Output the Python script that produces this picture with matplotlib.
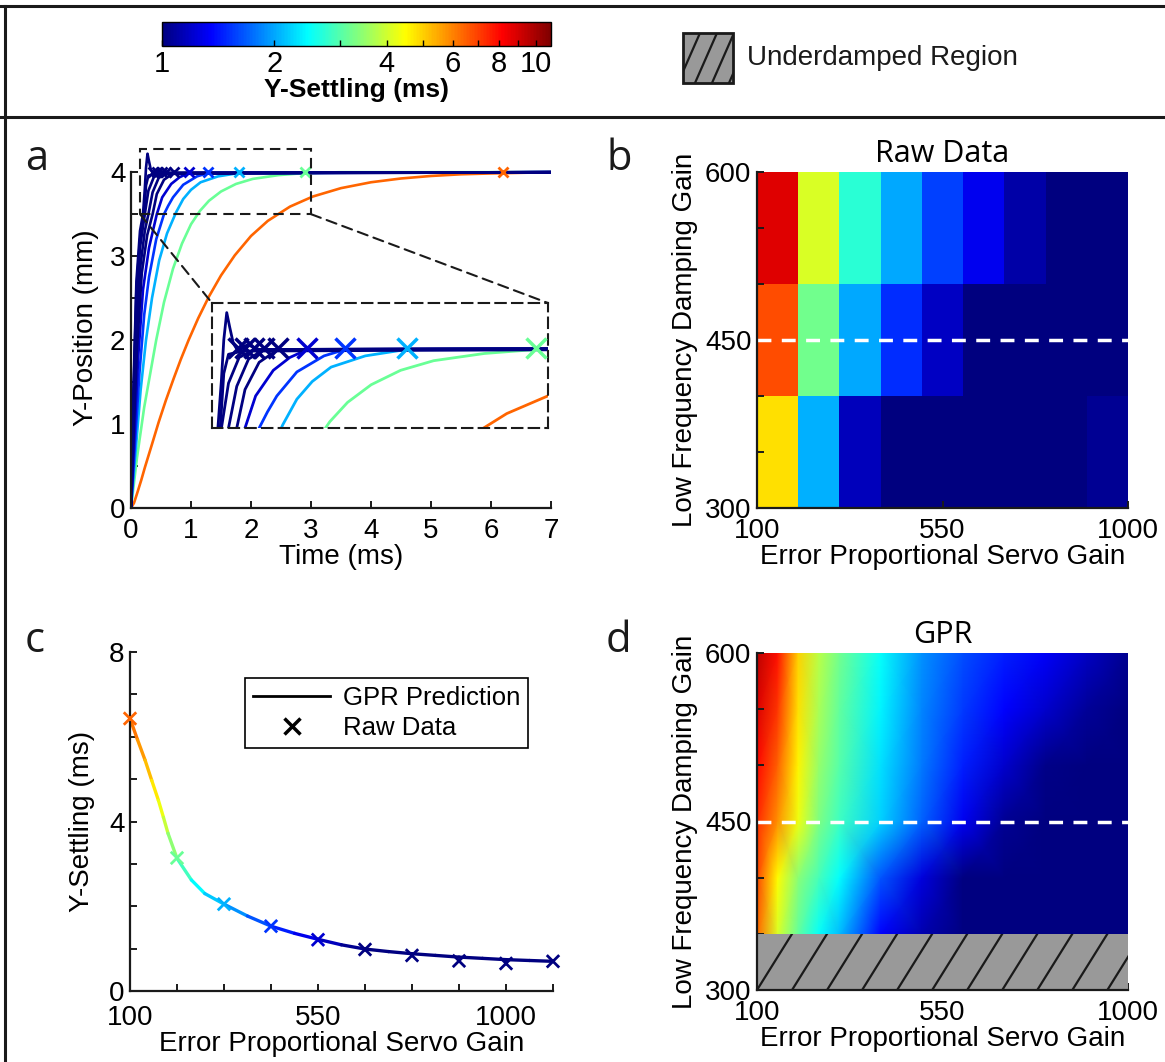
import numpy as np
import matplotlib
matplotlib.use("Agg")
import matplotlib.pyplot as plt
from matplotlib.colors import LogNorm, LinearSegmentedColormap
from matplotlib.collections import LineCollection
from matplotlib.lines import Line2D
from matplotlib.patches import Rectangle, ConnectionPatch
from matplotlib.cm import ScalarMappable

W, H = 1165, 1062
plt.rcParams['font.family'] = ['Liberation Sans', 'DejaVu Sans']
plt.rcParams['font.size'] = 20

# MATLAB-style jet
CMAP = LinearSegmentedColormap.from_list('matlab_jet', [
    (0.0, (0, 0, 0.5)), (0.125, (0, 0, 1)), (0.375, (0, 1, 1)),
    (0.625, (1, 1, 0)), (0.875, (1, 0, 0)), (1.0, (0.5, 0, 0))])
NORM = LogNorm(vmin=1, vmax=11)
INK = '#1a1a1a'
TICK_FS = 20
LABEL_FS = 20

# ---- colorbar ----
cbar_ticks = [1, 2, 4, 6, 8, 10]
cbar_ticklabels = ['1', '2', '4', '6', '8', '10']

# ---- panel a: step responses (time ms, position mm) ----
a_curve_t = [
    [0, 0.05, 0.1, 0.17, 0.23, 0.35, 0.46, 0.58, 0.71, 0.83, 0.96, 1.12, 1.3, 1.5, 1.73,
     2.0, 2.28, 2.65, 3.03, 3.5, 4.0, 4.5, 5.0, 5.5, 6.0, 7.0],
    [0, 0.05, 0.1, 0.16, 0.22, 0.32, 0.42, 0.55, 0.7, 0.85, 1.0, 1.15, 1.3, 1.5, 1.75,
     2.03, 2.46, 2.9, 3.5, 7.0],
    [0, 0.04, 0.08, 0.12, 0.16, 0.25, 0.35, 0.47, 0.6, 0.75, 0.87, 1.0, 1.16, 1.45, 1.8, 7.0],
    [0, 0.07, 0.14, 0.22, 0.3, 0.42, 0.55, 0.62, 0.7, 0.87, 1.1, 1.28, 7.0],
    [0, 0.06, 0.12, 0.2, 0.3, 0.43, 0.52, 0.67, 0.81, 0.96, 7.0],
    [0, 0.05, 0.1, 0.18, 0.27, 0.36, 0.43, 0.55, 0.71, 7.0],
    [0, 0.05, 0.1, 0.16, 0.23, 0.29, 0.36, 0.46, 0.59, 7.0],
    [0, 0.04, 0.09, 0.15, 0.23, 0.29, 0.38, 0.51, 7.0],
    [0, 0.04, 0.09, 0.15, 0.22, 0.25, 0.29, 0.41, 7.0],
    [0, 0.04, 0.09, 0.15, 0.2, 0.23, 0.25, 0.275, 0.3, 0.33, 0.37, 0.45, 0.55, 7.0],
]
a_curve_y = [
    [0, 0.06, 0.17, 0.33, 0.48, 0.76, 1.02, 1.28, 1.54, 1.77, 2.0, 2.26, 2.52, 2.77, 3.01,
     3.24, 3.42, 3.59, 3.71, 3.81, 3.88, 3.925, 3.955, 3.975, 3.985, 4.0],
    [0, 0.3, 0.6, 0.9, 1.2, 1.6, 2.0, 2.45, 2.85, 3.15, 3.38, 3.54, 3.66, 3.77, 3.86,
     3.92, 3.965, 3.99, 4.0, 4.0],
    [0, 0.35, 0.7, 1.05, 1.4, 2.0, 2.5, 2.95, 3.27, 3.52, 3.68, 3.79, 3.88, 3.95, 3.99, 4.0],
    [0, 0.8, 1.6, 2.3, 2.75, 3.2, 3.5, 3.6, 3.7, 3.85, 3.95, 3.99, 4.0],
    [0, 0.9, 1.8, 2.6, 3.1, 3.5, 3.7, 3.86, 3.94, 3.99, 4.0],
    [0, 1.0, 1.9, 2.8, 3.25, 3.5, 3.74, 3.91, 3.99, 4.0],
    [0, 1.2, 2.2, 2.9, 3.3, 3.5, 3.76, 3.93, 3.99, 4.0],
    [0, 1.2, 2.4, 3.1, 3.5, 3.78, 3.94, 3.99, 4.0],
    [0, 1.3, 2.6, 3.2, 3.5, 3.84, 3.96, 3.98, 4.0],
    [0, 1.4, 2.7, 3.3, 3.5, 3.8, 4.05, 4.22, 4.13, 4.03, 3.98, 4.02, 3.99, 4.0],
]
a_settle_t = [6.2, 2.9, 1.8, 1.28, 0.96, 0.71, 0.59, 0.51, 0.43, 0.37]
a_settle_y = 4.0
a_xticks = [0, 1, 2, 3, 4, 5, 6, 7]
a_yticks = [0, 0.5, 1, 1.5, 2, 2.5, 3, 3.5, 4]
a_yticklabels = ['0', '', '1', '', '2', '', '3', '', '4']
zoom_t = (0.15, 3.0)
zoom_y = (3.5, 4.28)

# ---- panel c: settling vs servo gain at damping 450 ----
c_gain = [100, 212.5, 325, 437.5, 550, 662.5, 775, 887.5, 1000, 1112.5]
c_settle = [6.43, 3.14, 2.05, 1.53, 1.21, 0.98, 0.84, 0.71, 0.65, 0.70]
c_xticklabels = ['100', '', '', '', '550', '', '', '', '1000', '']
gpr_gain = [100, 118, 136, 152, 168, 180, 191, 212.5, 247, 279, 325, 381, 437.5,
            494, 550, 606, 662.5, 719, 775, 831, 887.5, 944, 1000, 1056, 1112.5]
gpr_settle = [6.43, 5.93, 5.45, 4.97, 4.5, 4.1, 3.72, 3.13, 2.62, 2.30, 2.05, 1.77, 1.53,
              1.36, 1.22, 1.09, 0.99, 0.93, 0.88, 0.84, 0.80, 0.77, 0.74, 0.72, 0.70]
c_yticks = [0, 1, 2, 3, 4, 5, 6, 7, 8]
c_yticklabels = ['0', '', '', '', '4', '', '', '', '8']

# ---- panel b: raw grid (rows: damping 300, 450, 600) ----
b_settle = [
    [4.8, 2.05, 1.16, 0.97, 0.97, 0.97, 0.97, 0.97, 1.05],   # 300
    [6.8, 3.2, 2.0, 1.5, 1.18, 0.98, 0.97, 0.97, 0.97],      # 450
    [8.75, 4.1, 2.7, 2.0, 1.58, 1.3, 1.1, 0.97, 0.97],       # 600
]

# ---- panel d: GPR surface ----
d_gain = [100, 150, 200, 250, 300, 400, 500, 600, 700, 800, 900, 1000]
d_damping = [300, 350, 400, 450, 500, 550, 600]
d_settle = [
    [6.4, 4.1, 3.1, 2.5, 2.1, 1.35, 1.12, 0.98, 0.96, 0.96, 0.96, 0.96],
    [6.4, 4.1, 3.1, 2.5, 2.1, 1.35, 1.12, 0.98, 0.96, 0.96, 0.96, 0.96],
    [6.9, 4.5, 3.4, 2.9, 2.46, 1.65, 1.25, 1.0, 0.97, 0.96, 0.96, 0.96],
    [7.4, 5.8, 4.3, 3.3, 2.85, 2.2, 1.7, 1.3, 1.05, 0.97, 0.96, 0.96],
    [8.0, 6.5, 4.6, 3.5, 3.0, 2.3, 1.8, 1.45, 1.2, 1.02, 0.97, 0.96],
    [8.8, 7.2, 4.8, 3.65, 3.1, 2.4, 1.85, 1.55, 1.35, 1.2, 1.06, 0.98],
    [9.5, 7.8, 5.0, 3.8, 3.2, 2.5, 1.9, 1.62, 1.45, 1.33, 1.18, 1.04],
]
underdamped = (300, 350)
slice_damping = 450
gain_ticks = [100, 550, 1000]
damp_ticks = [300, 350, 400, 450, 500, 550, 600]
damp_ticklabels = ['300', '', '', '450', '', '', '600']


def add_px_axes(fig, left, top, right, bottom):
    return fig.add_axes([left / W, 1 - bottom / H, (right - left) / W, (bottom - top) / H])


def matlab_axes(ax, xpad=7):
    for s in ('top', 'right'):
        ax.spines[s].set_visible(False)
    for s in ('left', 'bottom'):
        ax.spines[s].set_linewidth(1.6)
        ax.spines[s].set_color(INK)
    ax.tick_params(direction='in', length=5, width=1.4, labelsize=TICK_FS, color=INK)
    ax.tick_params(axis='x', pad=xpad)
    ax.tick_params(axis='y', pad=4)


def hatch_box(ax, x0, x1, y0, y1, step, lean, lw):
    rect = Rectangle((x0, y0), x1 - x0, y1 - y0, facecolor='#999999', edgecolor='none', zorder=3)
    ax.add_patch(rect)
    for xs in np.arange(x0 - lean, x1 + step, step):
        ln, = ax.plot([xs, xs + lean], [y0, y1], color=INK, lw=lw, zorder=4)
        ln.set_clip_path(rect)
    return rect


fig = plt.figure(figsize=(W / 100, H / 100), dpi=100)

# ---------------- colorbar ----------------
cax = add_px_axes(fig, 162, 22, 551, 46)
cb = fig.colorbar(ScalarMappable(norm=NORM, cmap=CMAP), cax=cax, orientation='horizontal')
cb.set_ticks(cbar_ticks)
cb.set_ticklabels(cbar_ticklabels)
cb.ax.tick_params(which='both', direction='in', length=4, width=1, labelsize=21, pad=3)
cb.outline.set_linewidth(1.0)
cb.set_label('Y-Settling (ms)', fontweight='bold', fontsize=19, labelpad=0)

# ---------------- panel a ----------------
ax_a = add_px_axes(fig, 131, 147, 551, 508)
matlab_axes(ax_a)
colors_a = [CMAP(NORM(v)) for v in c_settle]
for t, y, col in zip(a_curve_t, a_curve_y, colors_a):
    ax_a.plot(t, y, color=col, lw=1.9, solid_joinstyle='round')
for t, col in zip(a_settle_t, colors_a):
    ax_a.plot(t, a_settle_y, marker='x', color=col, ms=7, mew=2, zorder=5)
ax_a.set_xlim(0, 7)
ax_a.set_ylim(0, 4.3)
ax_a.spines['left'].set_bounds(0, 4)
ax_a.set_xticks(a_xticks)
ax_a.set_yticks(a_yticks)
ax_a.set_yticklabels(a_yticklabels)
ax_a.set_xlabel('Time (ms)', fontsize=LABEL_FS, labelpad=0)
ax_a.set_ylabel('Y-Position (mm)', fontsize=LABEL_FS, labelpad=8)
ax_a.add_patch(Rectangle((zoom_t[0], zoom_y[0]), zoom_t[1] - zoom_t[0], zoom_y[1] - zoom_y[0],
                         fill=False, ec=INK, lw=1.5, ls=(0, (5, 3)), clip_on=False, zorder=6))

ax_in = add_px_axes(fig, 212, 303, 548, 428)
for t, y, col in zip(a_curve_t, a_curve_y, colors_a):
    ax_in.plot(t, y, color=col, lw=2.0, solid_joinstyle='round')
for t, col in zip(a_settle_t, colors_a):
    ax_in.plot(t, a_settle_y, marker='x', color=col, ms=14, mew=2.5, zorder=5)
ax_in.set_xlim(*zoom_t)
ax_in.set_ylim(*zoom_y)
ax_in.set_xticks([])
ax_in.set_yticks([])
for sp in ax_in.spines.values():
    sp.set_linestyle((0, (5, 3)))
    sp.set_linewidth(1.5)
    sp.set_color(INK)

for xa, xb in ((zoom_t[0], 0), (zoom_t[1], 1)):
    cp = ConnectionPatch(xyA=(xa, zoom_y[0]), coordsA=ax_a.transData,
                         xyB=(xb, 1), coordsB=ax_in.transAxes,
                         color=INK, lw=1.5, ls=(0, (5, 3)))
    fig.add_artist(cp)

# ---------------- panel b ----------------
ax_b = add_px_axes(fig, 757, 172, 1128, 508)
matlab_axes(ax_b)
ax_b.imshow(np.array(b_settle), cmap=CMAP, norm=NORM, origin='lower', aspect='auto',
            extent=(100, 1000, 300, 600), interpolation='nearest')
ax_b.axhline(slice_damping, color='white', lw=2.5, dashes=(4, 3))
ax_b.set_xlim(100, 1000)
ax_b.set_ylim(300, 600)
ax_b.set_xticks(gain_ticks)
ax_b.set_yticks(damp_ticks)
ax_b.set_yticklabels(damp_ticklabels)
ax_b.set_xlabel('Error Proportional Servo Gain', fontsize=LABEL_FS, labelpad=0)
ax_b.set_ylabel('Low Frequency Damping Gain', fontsize=LABEL_FS, labelpad=5)
ax_b.set_title('Raw Data', fontfamily='Open Sans', fontsize=22, pad=7)

# ---------------- panel c ----------------
ax_c = add_px_axes(fig, 130, 652, 553, 991)
matlab_axes(ax_c, xpad=10)
pts = np.column_stack([gpr_gain, gpr_settle])
segs = np.stack([pts[:-1], pts[1:]], axis=1)
lc = LineCollection(segs, cmap=CMAP, norm=NORM, linewidth=2.4, capstyle='round')
lc.set_array(np.sqrt(pts[:-1, 1] * pts[1:, 1]))
ax_c.add_collection(lc)
ax_c.scatter(c_gain, c_settle, c=c_settle, cmap=CMAP, norm=NORM, marker='x', s=80,
             linewidths=2, zorder=3, clip_on=False)
ax_c.set_xlim(100, 1112.5)
ax_c.set_ylim(0, 8)
ax_c.set_xticks(c_gain)
ax_c.set_xticklabels(c_xticklabels)
ax_c.set_yticks(c_yticks)
ax_c.set_yticklabels(c_yticklabels)
ax_c.set_xlabel('Error Proportional Servo Gain', fontsize=LABEL_FS, labelpad=0)
ax_c.set_ylabel('Y-Settling (ms)', fontsize=LABEL_FS, labelpad=10)
handles = [Line2D([], [], color='k', lw=2),
           Line2D([], [], color='k', marker='x', ls='none', ms=11, mew=2.5)]
leg = ax_c.legend(handles, ['GPR Prediction', 'Raw Data'], loc='upper right',
                  bbox_to_anchor=(0.941, 0.923), fancybox=False, edgecolor='k',
                  framealpha=1, fontsize=18.5, handlelength=3.0, borderpad=0.3,
                  labelspacing=0.25, handletextpad=0.5, borderaxespad=0)
leg.get_frame().set_linewidth(1.2)

# ---------------- panel d ----------------
ax_d = add_px_axes(fig, 757, 653, 1128, 990)
matlab_axes(ax_d)
ax_d.pcolormesh(d_gain, d_damping, np.array(d_settle), cmap=CMAP, norm=NORM,
                shading='gouraud', zorder=1)
hatch_box(ax_d, 100, 1000, underdamped[0], underdamped[1], step=85, lean=85, lw=1.6)
ax_d.axhline(slice_damping, color='white', lw=2.5, dashes=(4, 3), zorder=5)
ax_d.set_xlim(100, 1000)
ax_d.set_ylim(300, 600)
ax_d.set_xticks(gain_ticks)
ax_d.set_yticks(damp_ticks)
ax_d.set_yticklabels(damp_ticklabels)
ax_d.set_xlabel('Error Proportional Servo Gain', fontsize=LABEL_FS, labelpad=0)
ax_d.set_ylabel('Low Frequency Damping Gain', fontsize=LABEL_FS, labelpad=5)
ax_d.set_title('GPR', fontfamily='Open Sans', fontsize=22, pad=7)
for s in ('left', 'bottom'):
    ax_d.spines[s].set_zorder(6)

# ---------------- overlay: frames, legend, panel letters ----------------
ov = fig.add_axes([0, 0, 1, 1])
ov.set_xlim(0, W)
ov.set_ylim(H, 0)
ov.axis('off')
ov.plot([0, W], [6, 6], color=INK, lw=2.2)
ov.plot([0, W], [117, 117], color=INK, lw=2.2)
ov.plot([5, 5], [6, H], color=INK, lw=2.2)
hatch_box(ov, 683, 733, 83, 33, step=17, lean=22, lw=1.6)
ov.add_patch(Rectangle((683, 33), 50, 50, fill=False, ec=INK, lw=2, zorder=5))
ov.text(747, 58, 'Underdamped Region', fontsize=20, va='center', ha='left', color=INK)
for letter, x, y in (('a', 25, 170), ('b', 606, 170), ('c', 25, 652), ('d', 606, 652)):
    ov.text(x, y, letter, fontsize=30, fontfamily='Open Sans', va='baseline', ha='left', color=INK)

fig.savefig('out.png', dpi=100)
